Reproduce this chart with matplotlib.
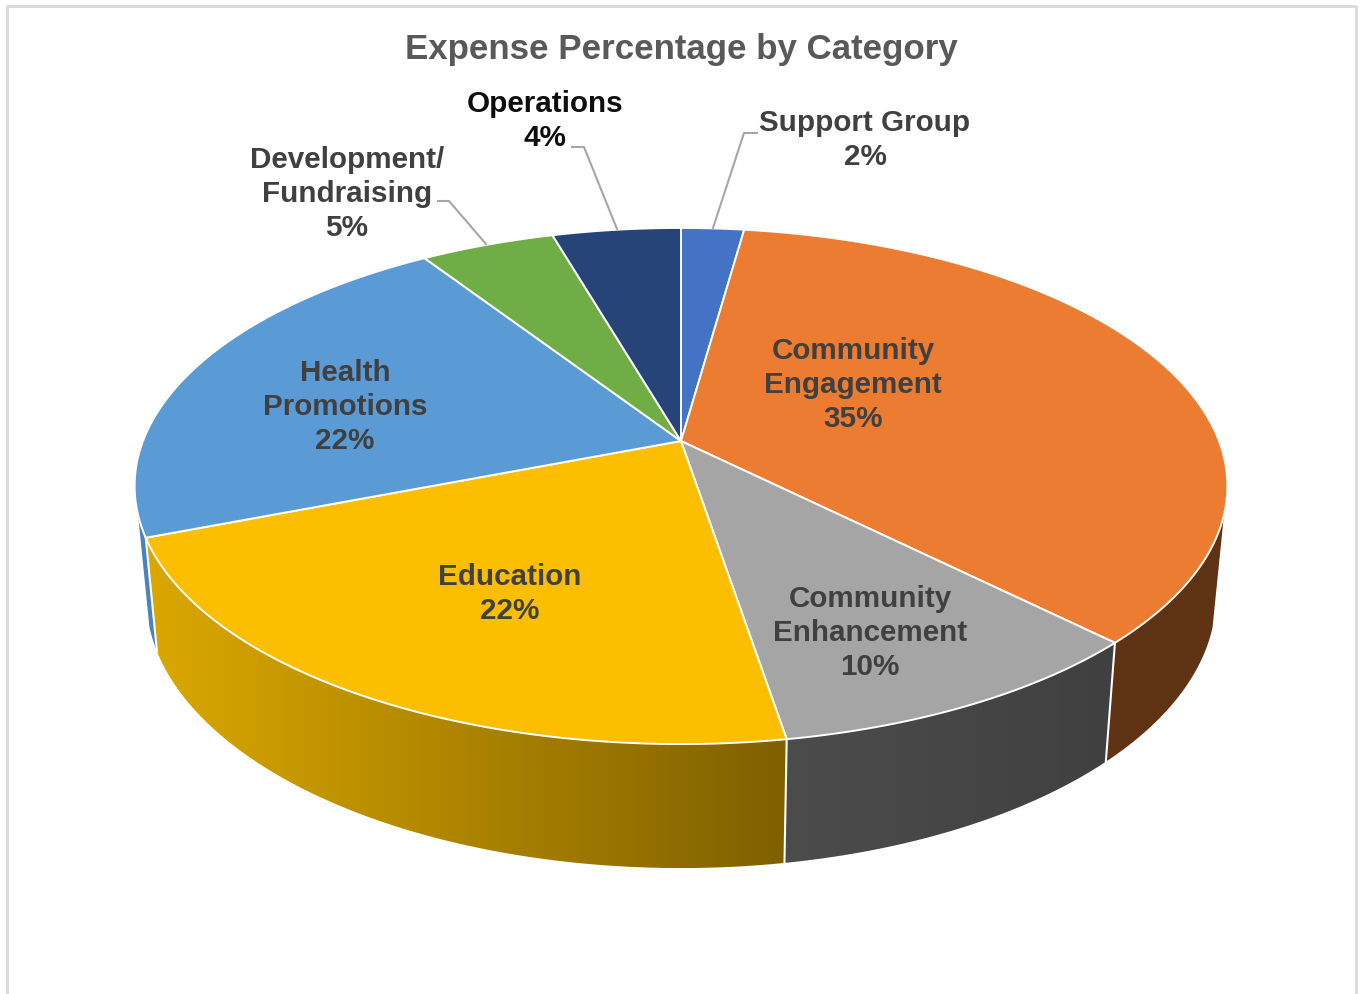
import numpy as np
import matplotlib
matplotlib.use('Agg')
import matplotlib.pyplot as plt
from matplotlib.patches import Polygon

# Data, clockwise from 12 o'clock
categories = ['Support Group', 'Community\nEngagement', 'Community\nEnhancement', 'Education',
              'Health\nPromotions', 'Development/\nFundraising', 'Operations']
values = [2.2, 35.3, 9.9, 21.7, 21.7, 4.7, 4.5]
percent_labels = ['2%', '35%', '10%', '22%', '22%', '5%', '4%']
title = 'Expense Percentage by Category'

top_colors = ['#4472c4', '#eb7c31', '#a5a5a5', '#fbbe00', '#5b9bd5', '#70ad47', '#264478']

plt.rcParams['font.family'] = ['Liberation Sans', 'DejaVu Sans']

fig = plt.figure(figsize=(13.64, 9.94), dpi=100)
ax = fig.add_axes([0, 0, 1, 1])


# Perspective view of the unit disc, result in pixels
def top_rim(angle_deg):
    a = np.radians(angle_deg)
    u = np.sin(a)
    v = -np.cos(a)
    w = 1 - 0.1744 * v
    return 681 + 538 * u / w, 441 + 250.2 * v / w


def bottom_rim(angle_deg):
    x, y = top_rim(angle_deg)
    return 681 + 0.979 * (x - 681), 86.8 + 1.05 * y


def arc(func, a0, a1):
    n = max(int(abs(a1 - a0) * 2), 2)
    return np.column_stack(func(np.linspace(a0, a1, n)))


edges = np.concatenate([[0], np.cumsum(values)]) * 360 / sum(values)

# Side walls: first angle, last angle, colour at left, colour at right
# Walls only show between the two silhouette angles
wall_from = 106.3
wall_to = 253.7
walls = [
    (wall_from, edges[2], '#5f3314', '#5f3314'),
    (edges[2], edges[3], '#4c4c4c', '#404040'),
    (edges[3], edges[4], '#dba800', '#7f6000'),
    (edges[4], wall_to, '#4a83bd', '#4a83bd'),
]
for a0, a1, c_left, c_right in walls:
    pts = np.vstack([arc(top_rim, a0, a1), arc(bottom_rim, a1, a0)])
    poly = Polygon(pts, closed=True, facecolor='none', edgecolor='none')
    ax.add_patch(poly)
    x0, x1 = pts[:, 0].min(), pts[:, 0].max()
    y0, y1 = pts[:, 1].min(), pts[:, 1].max()
    rgb0 = np.array(matplotlib.colors.to_rgb(c_left))
    rgb1 = np.array(matplotlib.colors.to_rgb(c_right))
    grad = np.linspace(rgb0, rgb1, 256)[np.newaxis, :, :]
    im = ax.imshow(grad, extent=[x0, x1, y1, y0], aspect='auto', zorder=1, interpolation='bilinear')
    im.set_clip_path(poly)

# White lines between the walls
for a in edges[2:5]:
    x0, y0 = top_rim(a)
    x1, y1 = bottom_rim(a)
    ax.plot([x0, x1], [y0, y1], color='white', lw=1.5, zorder=2)

# Top of the pie
for i, color in enumerate(top_colors):
    pts = np.vstack([[top_rim(0)[0], 441], arc(top_rim, edges[i], edges[i + 1])])
    ax.add_patch(Polygon(pts, closed=True, facecolor=color, edgecolor='white', lw=1.4,
                         joinstyle='round', zorder=3))

# Leader lines
leader_color = '#a6a6a6'
ax.plot([713, 744, 757], [228, 133, 133], color=leader_color, lw=1.5, zorder=4)
ax.plot([617, 584, 572], [229, 147, 147], color=leader_color, lw=1.5, zorder=4)
ax.plot([486, 449, 438], [244, 201, 201], color=leader_color, lw=1.5, zorder=4)

# Data labels
label_xy = [(865, 140), (853, 385), (870, 633), (510, 594), (345, 407), (347, 194), (545, 121)]
label_colors = ['#404040'] * 6 + ['#0d0d0d']
for name, pct, (x, y), c in zip(categories, percent_labels, label_xy, label_colors):
    ax.text(x, y, name + '\n' + pct, ha='center', va='center', color=c, fontsize=21.3,
            fontweight='bold', linespacing=1.29, zorder=5)

ax.text(681, 49, title, ha='center', va='center', color='#595959', fontsize=25.1, fontweight='bold')

# Chart frame (no bottom edge in the picture)
ax.plot([7, 7, 1355.5, 1355.5], [994, 6, 6, 994], color='#d9d9d9', lw=2, zorder=0)

ax.set_xlim(0, 1364)
ax.set_ylim(994, 0)
ax.axis('off')

fig.savefig('out.png', dpi=100)
